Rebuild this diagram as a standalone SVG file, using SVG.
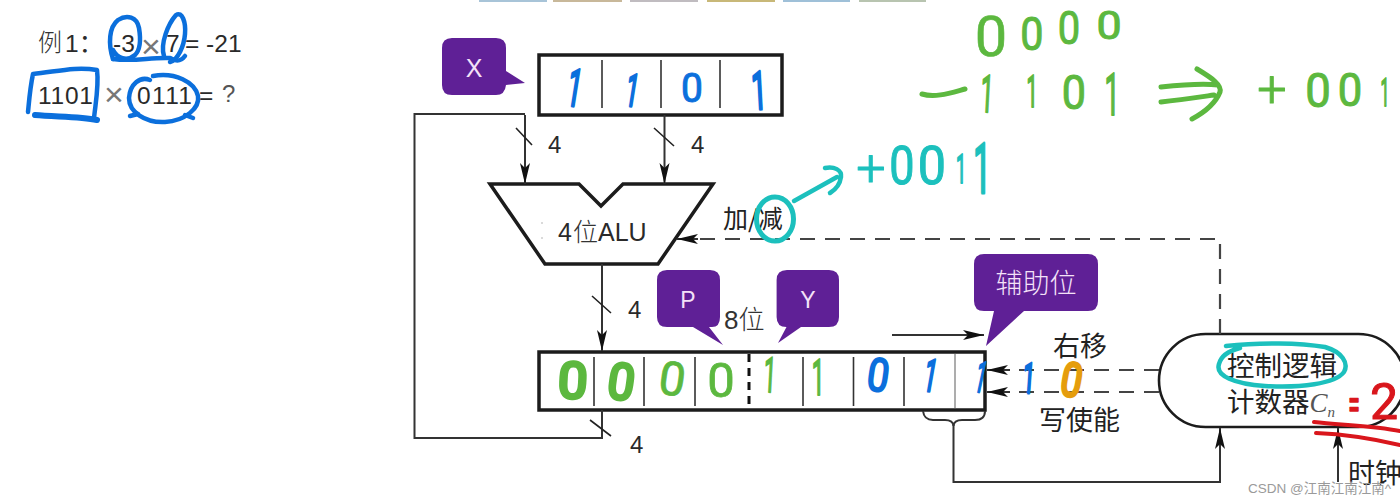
<svg xmlns="http://www.w3.org/2000/svg" width="1400" height="501" viewBox="0 0 1400 501">
<style>
text{font-family:"Liberation Sans","Noto Sans CJK SC",sans-serif;fill:#2a2a2a}
.cn{font-family:"Noto Sans CJK SC",sans-serif;font-weight:300;font-size:26px;fill:#333}
.dark{font-weight:400;fill:#222}
.num{font-size:24px}
.sum{font-size:24.500px}
.times{font-size:34px;fill:#777}
.box{fill:#fff;stroke:#1c1c1c;stroke-width:3.500}
.div{stroke:#333;stroke-width:1.600;fill:none}
.wire{fill:none;stroke:#333;stroke-width:2}
.dash{fill:none;stroke:#444;stroke-width:2.200;stroke-dasharray:15 10}
.tick{stroke:#222;stroke-width:1.600}
.bubble{fill:#5f2096}
.bubble-t{fill:#f4e2f8;text-anchor:middle}
.ink{font-family:Roboto,sans-serif;text-anchor:middle;stroke-linejoin:round}
.blue{fill:#0b6fdc;stroke:#0b6fdc}
.green{fill:#5cb83f;stroke:#5cb83f}
.teal{fill:#1cc0bd;stroke:#1cc0bd}
.orange{fill:#e59d0c;stroke:#e59d0c}
.red{fill:#d9161c;stroke:#d9161c}
.blue-pen{fill:none;stroke:#0b6fdc;stroke-width:4.500;stroke-linecap:round;stroke-linejoin:round}
.teal-pen{fill:none;stroke:#1cc0bd;stroke-width:4.500;stroke-linecap:round;stroke-linejoin:round}
.green-pen{fill:none;stroke:#5cb83f;stroke-width:5;stroke-linecap:round;stroke-linejoin:round}
.red-pen{fill:none;stroke:#d9161c;stroke-width:4;stroke-linecap:round;stroke-linejoin:round}
</style>
<defs>
<marker id="head" markerUnits="userSpaceOnUse" markerWidth="22" markerHeight="14" refX="21" refY="7" orient="auto">
<path d="M0 2 L21 7 L0 12 L5 7 Z" fill="#111"/>
</marker>
</defs>
<rect width="1400" height="501" fill="#fff"/>

<!-- toolbar strip along the top edge -->
<g id="top-strip">
<rect x="479" y="0" width="68" height="2" fill="#a8c4d8"/>
<rect x="553" y="0" width="69" height="2" fill="#c8b89a"/>
<rect x="630" y="0" width="68" height="2" fill="#c0bcc0"/>
<rect x="707" y="0" width="68" height="2" fill="#c8b878"/>
<rect x="783" y="0" width="67" height="2" fill="#9fc0d8"/>
<rect x="859" y="0" width="67" height="2" fill="#b8c4b0"/>
</g>

<!-- worked example -->
<g id="example">
<text class="cn" x="38" y="51" style="font-size:24px">例</text>
<text class="sum" x="65" y="52">1：</text>
<text class="sum" x="113" y="52">-3</text>
<text class="times" x="141" y="58">×</text>
<text class="sum" x="166" y="52">7</text>
<text class="sum" x="185" y="52">= -21</text>
<text class="sum" x="38" y="104" textLength="55">1101</text>
<text class="times" x="104" y="106">×</text>
<text class="sum" x="137" y="104" textLength="55">0111</text>
<text class="sum" x="199" y="104">=</text>
<text x="222" y="102" font-size="24" style="fill:#555">?</text>
</g>
<g id="example-marks">
<path class="blue-pen" d="M113 59C108 44 109 27 118 20C127 14 137 17 139 28C141 40 140 50 135 55C127 62 117 58 113 50"/>
<path class="blue-pen" d="M113 59C135 62 150 57 170 58C178 63 182 60 185 56"/>
<path class="blue-pen" d="M164 56C160 44 168 24 176 15C182 11 186 22 185 34C184 46 178 60 170 62"/>
<path class="blue-pen" d="M33 74C30 88 29 102 28 112M33 74C55 72 75 66 97 70C99 85 96 100 94 118"/>
<path class="blue-pen" d="M35 115C55 117 80 116 97 120" style="stroke-width:6"/>
<path class="blue-pen" d="M150 80C140 76 130 84 129 98C129 112 145 123 165 122C185 121 200 108 198 96C195 82 175 72 153 76"/>
<path class="blue-pen" d="M130 116L138 114M185 115L193 118"/>
</g>

<!-- X register -->
<g id="x-register">
<rect class="box" x="539" y="55" width="243" height="60"/>
<path class="div" d="M602 60V108M661 60V108M720 60V108"/>
<text class="ink blue" transform="translate(572 106) rotate(9) scale(.5 1)" font-size="52" stroke-width="3">1</text>
<text class="ink blue" transform="translate(630 106) rotate(9) scale(.5 1)" font-size="45" stroke-width="3">1</text>
<text class="ink blue" transform="translate(692 102) scale(.95 1)" font-size="41" stroke-width="1">0</text>
<text class="ink blue" transform="translate(760 109) rotate(-3) scale(.5 1)" font-size="53" stroke-width="3">1</text>
</g>
<g id="x-label">
<path class="bubble" d="M452 38H496Q506 38 506 48V71L525 83L506 85Q505 95 496 95H452Q442 95 442 85V48Q442 38 452 38Z"/>
<text class="bubble-t" x="474" y="77" font-size="25">X</text>
</g>

<!-- ALU -->
<g id="alu">
<path class="box" d="M490 184H579L601 206L623 184H713L658 264H545Z"/>
<circle cx="542" cy="223" r=".8" fill="#aaa"/><circle cx="542" cy="238" r=".8" fill="#aaa"/>
<text x="558" y="241" font-size="25">4</text>
<text class="cn" x="573" y="241" style="font-size:25px">位</text>
<text x="598" y="241" font-size="25">ALU</text>
</g>
<g id="alu-mode">
<text class="cn dark" x="723" y="228" style="font-size:25px">加/减</text>
</g>

<!-- product and multiplier register -->
<g id="py-register">
<rect class="box" x="539" y="352" width="446" height="58"/>
<path class="div" d="M594 357V406M644 357V406M695 357V406M803 357V406M853.500 357V406M904 357V406"/>
<path class="div" d="M955 354V408" style="stroke:#999"/>
<path d="M749 354V410" fill="none" stroke="#111" stroke-width="3" stroke-dasharray="8 6"/>
<text class="ink green" transform="translate(572 398) rotate(3) scale(1.050 1)" font-size="50" stroke-width="3.500">0</text>
<text class="ink green" transform="translate(619 399) rotate(8) scale(.95 1)" font-size="50" stroke-width="3.500">0</text>
<text class="ink green" transform="translate(670 395) rotate(8) scale(1 1)" font-size="47" stroke-width=".8">0</text>
<text class="ink green" transform="translate(721 397) scale(1 1)" font-size="49" stroke-width=".8">0</text>
<text class="ink green" transform="translate(769 392) rotate(3) scale(.45 1)" font-size="49" stroke-width="2">1</text>
<text class="ink green" transform="translate(818 395) scale(.45 1)" font-size="50" stroke-width="2">1</text>
<text class="ink blue" transform="translate(876 391) rotate(8) scale(.85 1)" font-size="46" stroke-width="2">0</text>
<text class="ink blue" transform="translate(928 391) rotate(10) scale(.5 1)" font-size="45" stroke-width="3">1</text>
<text class="ink blue" transform="translate(978 392) rotate(12) scale(.45 1)" font-size="43" stroke-width="2.500">1</text>
<text class="cn" x="724" y="329" style="font-size:26px"><tspan font-family="Liberation Sans" font-weight="400">8</tspan>位</text>
</g>
<g id="p-label">
<path class="bubble" d="M667 270H710Q720 270 720 280V317Q720 327 712 327H709L723 345L693 327H667Q657 327 657 317V280Q657 270 667 270Z"/>
<text class="bubble-t" x="688" y="308" font-size="23">P</text>
</g>
<g id="y-label">
<path class="bubble" d="M787 270H829Q839 270 839 280V317Q839 327 829 327H801L778 343L786.500 327Q776.600 327 776.600 317V280Q776.600 270 787 270Z"/>
<text class="bubble-t" x="808" y="308" font-size="23">Y</text>
</g>
<g id="aux-label">
<path class="bubble" d="M984 254H1088Q1098 254 1098 264V301Q1098 311 1088 311H1024L986 346L994 311H984Q974 311 974 301V264Q974 254 984 254Z"/>
<text class="cn bubble-t" x="1036" y="293" style="font-size:27px;fill:#f4e2f8;text-anchor:middle">辅助位</text>
</g>

<!-- control unit -->
<g id="control">
<rect x="1159" y="334" width="246" height="93" rx="46.500" fill="#fff" stroke="#1c1c1c" stroke-width="2.600"/>
<text class="cn dark" style="font-size:27.500px"><tspan x="1227" y="376">控制逻辑</tspan><tspan x="1227" y="412">计数器</tspan><tspan font-style="italic" style="font-family:'Liberation Serif',serif;fill:#555" font-size="27">C<tspan dy="5" font-size="15">n</tspan></tspan></text>
</g>
<g id="control-labels">
<text class="cn dark" x="1053" y="356" style="font-size:27px">右移</text>
<text class="cn dark" x="1039" y="430" style="font-size:27px">写使能</text>
<text class="cn dark" x="1348" y="483" style="font-size:27px">时钟</text>
</g>

<!-- connectors -->
<g id="connectors">
<path class="wire" d="M525 115V184" marker-end="url(#head)"/>
<path class="wire" d="M664.500 115V184" marker-end="url(#head)"/>
<path class="wire" d="M602 264V351" marker-end="url(#head)"/>
<path class="wire" d="M525 114H414.500V438H602V410"/>
<path class="wire" d="M892 335H984" marker-end="url(#head)"/>
<path class="wire" d="M923 411Q924 420 933 420H945Q953 420 953.500 426Q954 420 962 420H975Q985 420 985 411" stroke-width="1.500"/>
<path class="wire" d="M953.500 425V482H1220V428" marker-end="url(#head)"/>
<path class="wire" d="M1338 482V428" marker-end="url(#head)"/>
<path class="dash" d="M1220 334V239H700"/>
<path class="wire" d="M698 239H677" marker-end="url(#head)"/>
<path class="dash" d="M1159 370H1010"/>
<path class="dash" d="M1159 392H1010"/>
<path class="wire" d="M1010 370H987" marker-end="url(#head)"/>
<path class="wire" d="M1010 392H987" marker-end="url(#head)"/>
<path class="tick" d="M516 128L532 145M654 128L674 146M592 296L611 313M590 420L611 436"/>
<text class="num" x="548" y="153">4</text>
<text class="num" x="691" y="153">4</text>
<text class="num" x="628" y="318">4</text>
<text class="num" x="630" y="453">4</text>
</g>

<!-- pen notes -->
<g id="notes">
<ellipse class="teal-pen" cx="775" cy="219" rx="18.500" ry="22" style="stroke-width:5"/>
<path class="teal-pen" d="M794 201L837 177M825 168C834 166 842 170 841 177C840 184 835 190 830 193"/>
<text class="ink teal" transform="translate(871 186)" font-size="52" font-weight="300">+</text>
<text class="ink teal" transform="translate(902 184) scale(.85 1)" font-size="53" stroke-width="1">0</text>
<text class="ink teal" transform="translate(932 184) scale(.95 1)" font-size="53" stroke-width="1">0</text>
<text class="ink teal" transform="translate(961 183) scale(.45 1)" font-size="40" stroke-width="2">1</text>
<text class="ink teal" transform="translate(982 193) scale(.45 1)" font-size="70" stroke-width="3">1</text>

<text class="ink green" transform="translate(991 56) scale(1.050 1)" font-size="55" stroke-width=".6">0</text>
<text class="ink green" transform="translate(1032 50) scale(.9 1)" font-size="46" stroke-width="1">0</text>
<text class="ink green" transform="translate(1069 44) scale(.85 1)" font-size="47" stroke-width="1">0</text>
<text class="ink green" transform="translate(1109 39) scale(1.150 1)" font-size="39" stroke-width="1">0</text>
<path class="green-pen" d="M922 94C935 98 950 93 965 89"/>
<text class="ink green" transform="translate(986 112) rotate(3) scale(.45 1)" font-size="52" stroke-width="2">1</text>
<text class="ink green" transform="translate(1032 107) scale(.45 1)" font-size="44" stroke-width="2">1</text>
<text class="ink green" transform="translate(1074 109) scale(.9 1)" font-size="48" stroke-width="1">0</text>
<text class="ink green" transform="translate(1112 115) scale(.45 1)" font-size="60" stroke-width="2">1</text>
<path class="green-pen" d="M1161 87C1180 85 1200 83 1218 85M1161 102C1180 100 1200 97 1214 95M1197 69C1212 78 1222 85 1220 92C1216 102 1205 112 1192 119"/>
<text class="ink green" transform="translate(1272 107)" font-size="52" font-weight="300">+</text>
<text class="ink green" transform="translate(1318 107) scale(.95 1)" font-size="48" stroke-width="1">0</text>
<text class="ink green" transform="translate(1350 106) scale(.95 1)" font-size="46" stroke-width="1">0</text>
<text class="ink green" transform="translate(1385 106) scale(.4 1)" font-size="39" stroke-width="2">1</text>

<text class="ink blue" transform="translate(1028 393) rotate(4) scale(.5 1)" font-size="42" stroke-width="3">1</text>
<text class="ink orange" transform="translate(1069 396) rotate(10) scale(.8 1)" font-size="47" stroke-width="3">0</text>

<path class="teal-pen" d="M1226 346C1260 342 1300 343 1325 347C1342 352 1349 363 1344 372C1335 384 1300 388 1265 386C1235 384 1215 376 1219 364C1221 356 1228 351 1240 348"/>

<text class="ink red" transform="translate(1354 420) scale(.7 1.500)" font-size="30" stroke-width="1">=</text>
<text class="ink red" transform="translate(1384 419)" font-size="50">2</text>
<path class="red-pen" d="M1314 422C1340 425 1375 426 1400 431"/>
<path class="red-pen" d="M1316 433C1340 434 1370 438 1400 445"/>
</g>

<!-- site credit -->
<g id="credit">
<text x="1248" y="493" font-size="13.500" style="fill:#9a9a9a">CSDN @江南江南江南^</text>
</g>
</svg>
